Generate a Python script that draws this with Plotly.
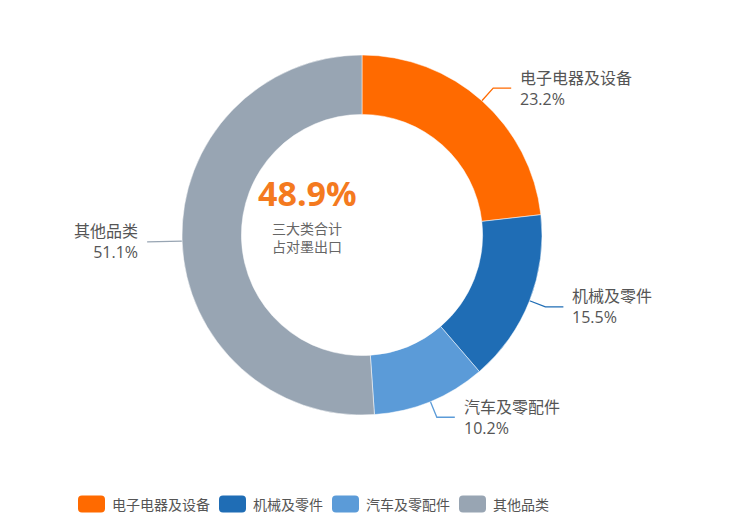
import numpy as np
import plotly.graph_objects as go

categories = ["电子电器及设备", "机械及零件", "汽车及零配件", "其他品类"]
shares = [23.2, 15.5, 10.2, 51.1]
colors = ["#FF6A00", "#1F6DB5", "#5B9BD8", "#98A5B3"]
center_lines = ["三大类合计", "占对墨出口"]

# page is 730x525, the html body keeps an 8px margin
W, H, pad = 730, 525, 8
fw, fh = W - 2 * pad, H - 2 * pad
cx, cy, R = 362, 235, 180
hole = 0.67
font_family = "Open Sans, Noto Sans CJK SC, sans-serif"
text_color = "#555555"

fig = go.Figure()

fig.add_trace(go.Pie(
    labels=categories, values=shares, sort=False,
    direction="clockwise", rotation=0, hole=hole,
    marker=dict(colors=colors, line=dict(color="white", width=0.5)),
    textinfo="none", hoverinfo="label+percent", showlegend=False,
    domain=dict(x=[(cx - R - pad) / fw, (cx + R - pad) / fw],
                y=[1 - (cy + R - pad) / fh, 1 - (cy - R - pad) / fh]),
))

# leader lines + outside labels, placed from the slice mid angles
cum = np.cumsum([0] + shares)
tot = sum(shares)
annotations = []
for i, (name, val) in enumerate(zip(categories, shares)):
    theta = np.radians((cum[i] + val / 2) / tot * 360)
    sx, sy = cx + R * np.sin(theta), cy - R * np.cos(theta)
    ex, ey = cx + (R + 17) * np.sin(theta), cy - (R + 17) * np.cos(theta)
    right = np.sin(theta) > 0
    hx = ex + 18 if right else ex - 18
    fig.add_trace(go.Scatter(
        x=[sx, ex, hx], y=[sy, ey, ey], mode="lines",
        line=dict(color=colors[i], width=1.3),
        hoverinfo="skip", showlegend=False,
    ))
    tx = hx + 7 if right else hx - 7
    anchor = "left" if right else "right"
    annotations.append(dict(
        x=tx, y=ey, xref="x", yref="y", text=f"{name}<br>{val:.1f}%",
        showarrow=False, xanchor=anchor, yanchor="middle", align=anchor,
        font=dict(size=16, color=text_color, family=font_family),
    ))

# centre text
annotations.append(dict(
    x=307, y=193, xref="x", yref="y", text=f"<b>{sum(shares[:3]):.1f}%</b>",
    showarrow=False, font=dict(size=34, color="#F47A1F", family=font_family),
))
annotations.append(dict(
    x=307, y=237, xref="x", yref="y", text="<br>".join(center_lines),
    showarrow=False, yanchor="middle",
    font=dict(size=14, color="#666666", family=font_family),
))

# legend drawn by hand: wide rounded swatches
shapes = []
lx, ly = 78, 504
sw, sh, r = 27, 17, 4
for name, col in zip(categories, colors):
    x0, x1, y0, y1 = lx, lx + sw, ly - sh / 2, ly + sh / 2
    path = (f"M{x0 + r},{y0} L{x1 - r},{y0} Q{x1},{y0} {x1},{y0 + r} "
            f"L{x1},{y1 - r} Q{x1},{y1} {x1 - r},{y1} L{x0 + r},{y1} "
            f"Q{x0},{y1} {x0},{y1 - r} L{x0},{y0 + r} Q{x0},{y0} {x0 + r},{y0} Z")
    shapes.append(dict(type="path", path=path, xref="x", yref="y",
                       fillcolor=col, line=dict(width=0)))
    annotations.append(dict(
        x=lx + sw + 5, y=ly, xref="x", yref="y", text=name, showarrow=False,
        xanchor="left", yanchor="middle",
        font=dict(size=14, color=text_color, family=font_family),
    ))
    lx += sw + 6 + 14 * len(name) + 10

fig.update_layout(
    width=fw, height=fh, margin=dict(l=0, r=0, t=0, b=0),
    paper_bgcolor="white", plot_bgcolor="rgba(0,0,0,0)",
    xaxis=dict(range=[pad, W - pad], visible=False, fixedrange=True),
    yaxis=dict(range=[H - pad, pad], visible=False, fixedrange=True),
    annotations=annotations, shapes=shapes, showlegend=False,
)

fig.write_html("out.html")
